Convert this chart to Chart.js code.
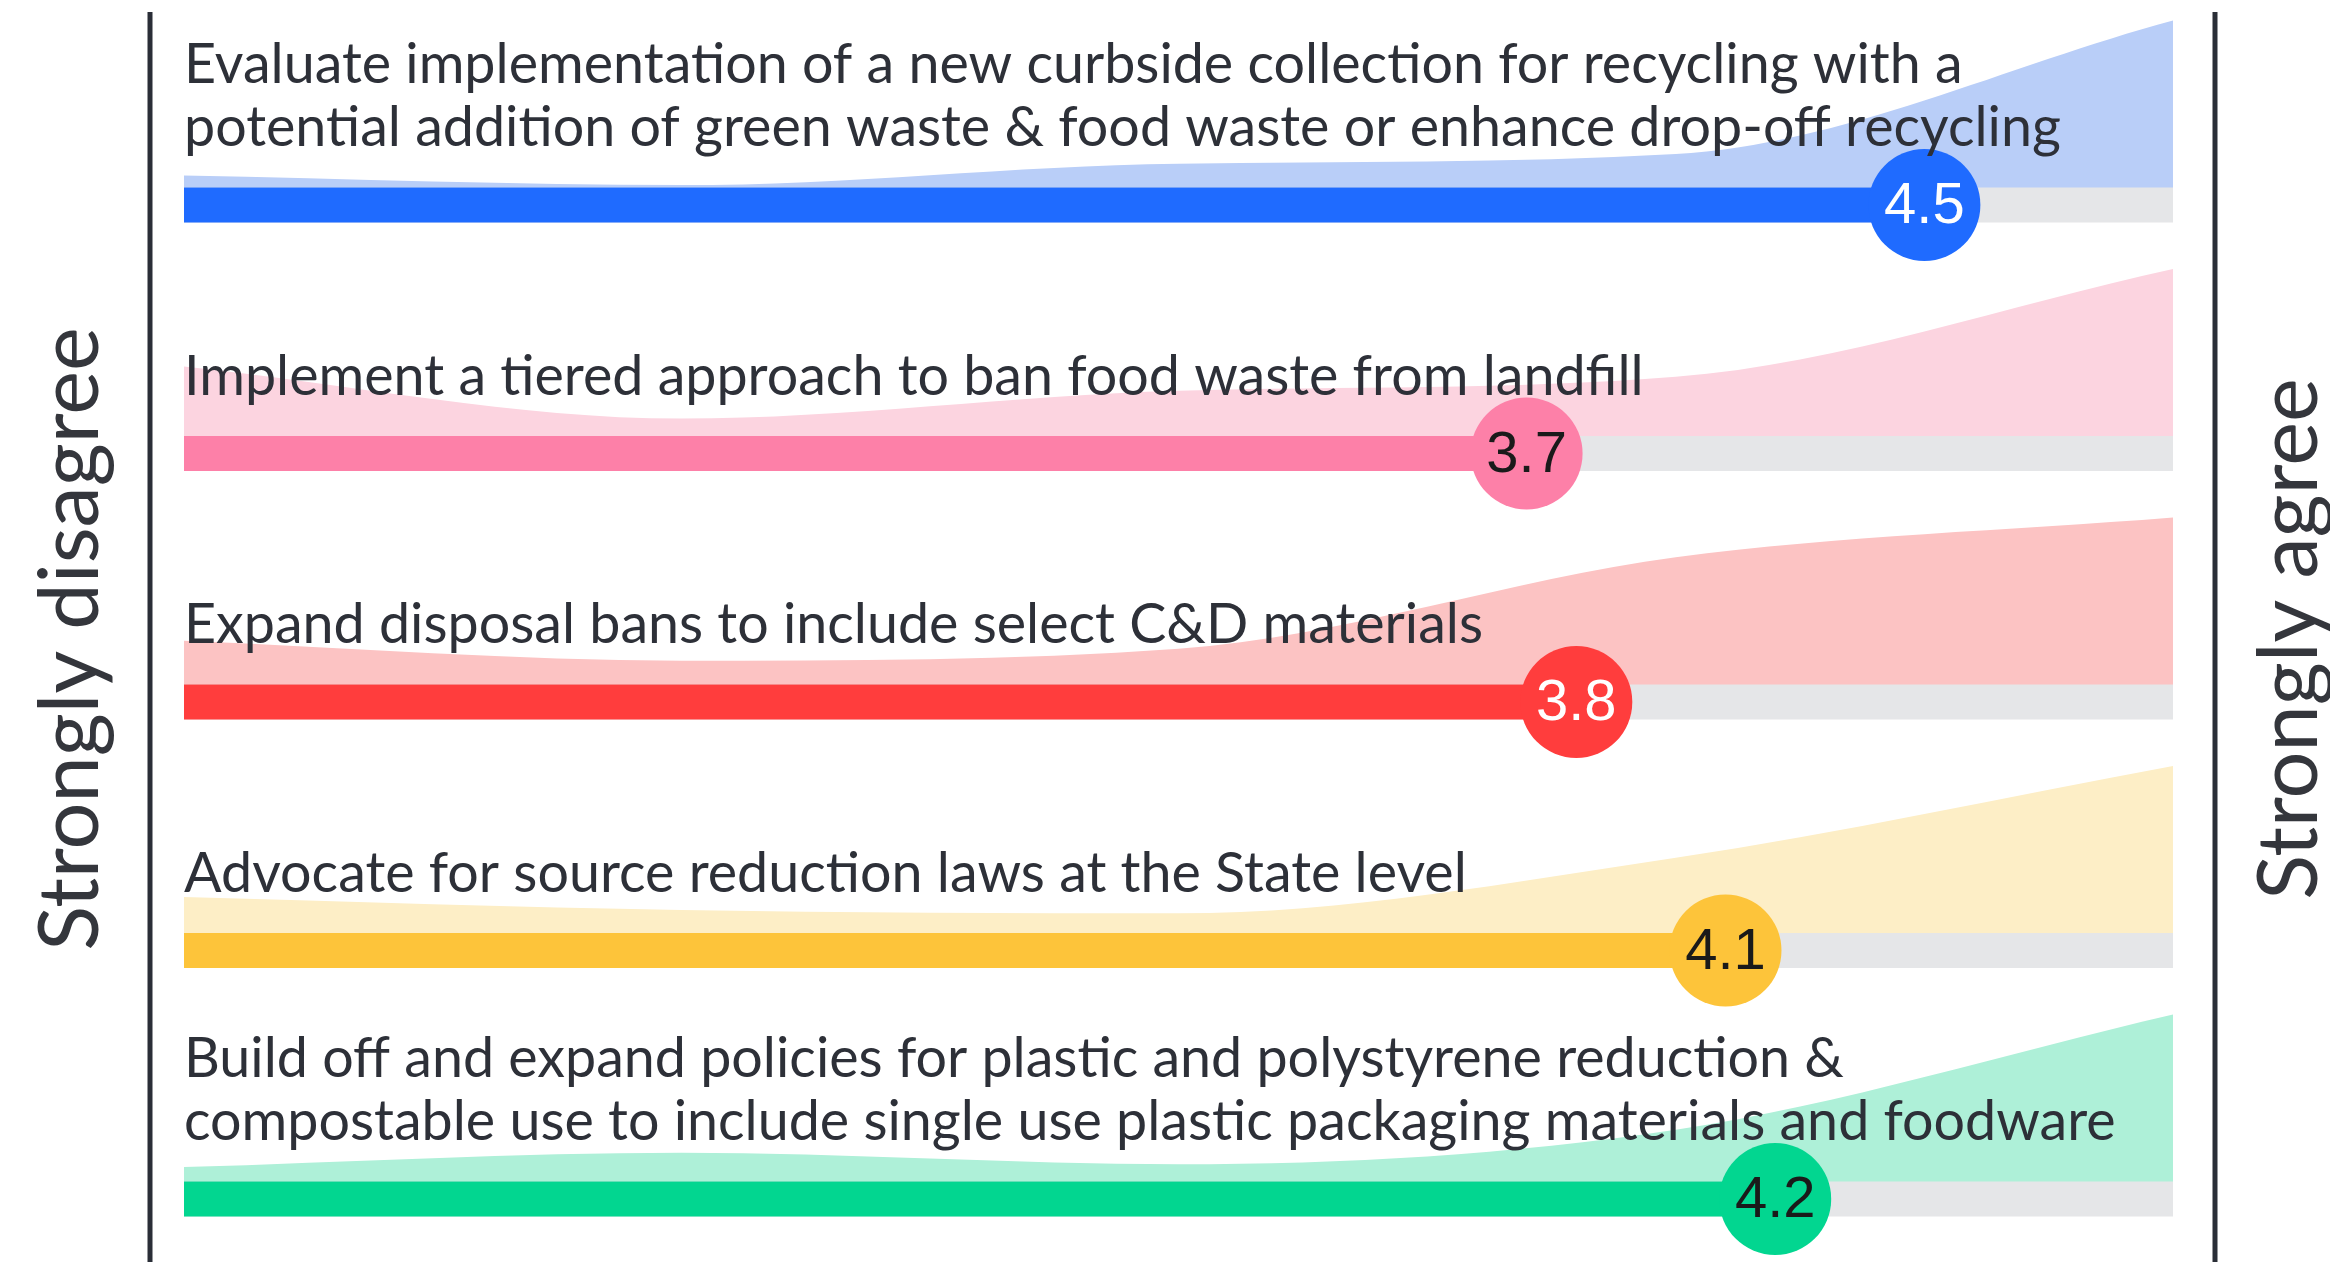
<!DOCTYPE html>
<html>
<head>
<meta charset="utf-8">
<script src="https://cdn.jsdelivr.net/npm/chart.js"></script>
<style>
  html, body { margin: 0; padding: 0; background: #fff; }
  canvas { display: block; }
</style>
</head>
<body>
<canvas id="chart" width="2330" height="1262"></canvas>
<script>
// statements (label lines)
const CATEGORIES = [
  ["Evaluate implementation of a new curbside collection for recycling with a",
   "potential addition of green waste & food waste or enhance drop-off recycling"],
  ["Implement a tiered approach to ban food waste from landfill"],
  ["Expand disposal bans to include select C&D materials"],
  ["Advocate for source reduction laws at the State level"],
  ["Build off and expand policies for plastic and polystyrene reduction &",
   "compostable use to include single use plastic packaging materials and foodware"]
];
const AVERAGES = [4.5, 3.7, 3.8, 4.1, 4.2];
const SCALE = [1, 2, 3, 4, 5];
const SCALE_LABELS = ["Strongly disagree", "Strongly agree"];

// share of responses at each scale point (%)
const DIST_CURBSIDE = [5, 1, 10, 14, 70];
const DIST_FOODWASTE = [20, 5, 13, 17, 48];
const DIST_CD = [11, 6, 9, 32, 42];
const DIST_SOURCE = [11, 7, 6, 23, 51];
const DIST_PLASTIC = [5, 10, 6, 18, 58];
const DISTS = [DIST_CURBSIDE, DIST_FOODWASTE, DIST_CD, DIST_SOURCE, DIST_PLASTIC];

const BAR_COLORS = ['#1f6bff', '#fd80a8', '#ff3d3d', '#fdc43a', '#02d690'];
const AREA_COLORS = ['#b9cef8', '#fcd4e0', '#fcc3c3', '#fdeec6', '#aef0d8'];
const VALUE_COLORS = ['#ffffff', '#1a1a1a', '#ffffff', '#1a1a1a', '#1a1a1a'];
const TRACK = '#e5e6e8';

// layout (y axis runs in pixels, top down)
const ROW_FIRST = 205, ROW_GAP = 248.5;
const BAR_W = 35, AREA_H = 167, DOT_R = 56;
const rowY = i => ROW_FIRST + ROW_GAP * i;

const datasets = [];
datasets.push({
  data: AVERAGES.map((v, i) => ({ x: v, y: rowY(i) })),
  showLine: false,
  pointRadius: DOT_R, pointHoverRadius: DOT_R,
  pointBackgroundColor: BAR_COLORS, pointBorderWidth: 0,
  clip: false, order: 0
});
CATEGORIES.forEach((c, i) => {
  const y = rowY(i);
  const max = Math.max(...DISTS[i]);
  datasets.push({
    data: [{ x: 1, y: y }, { x: AVERAGES[i], y: y }],
    borderColor: BAR_COLORS[i], borderWidth: BAR_W, borderCapStyle: 'butt',
    pointRadius: 0, order: 1
  });
  datasets.push({
    data: [{ x: 1, y: y }, { x: 5, y: y }],
    borderColor: TRACK, borderWidth: BAR_W, borderCapStyle: 'butt',
    pointRadius: 0, order: 2
  });
  datasets.push({
    data: SCALE.map((s, k) => ({ x: s, y: y - BAR_W / 2 - DISTS[i][k] / max * AREA_H })),
    borderWidth: 0, borderColor: 'rgba(0,0,0,0)',
    backgroundColor: AREA_COLORS[i],
    fill: { value: y },
    cubicInterpolationMode: 'monotone',
    pointRadius: 0, order: 3
  });
});

const decorations = {
  id: 'decorations',
  afterDatasetsDraw(chart) {
    const ctx = chart.ctx;
    const xs = chart.scales.x;
    const left = xs.getPixelForValue(1);
    ctx.save();

    // statement labels, sized to the reference line width
    ctx.font = '100px Lato';
    const labelSize = 100 * 1780 / ctx.measureText(CATEGORIES[0][0]).width;
    ctx.font = labelSize.toFixed(1) + 'px Lato';
    ctx.fillStyle = '#2d3038';
    ctx.textAlign = 'left';
    ctx.textBaseline = 'alphabetic';
    CATEGORIES.forEach((lines, i) => {
      const base = rowY(i) - 59;
      lines.forEach((t, k) => {
        ctx.fillText(t, left, base - (lines.length - 1 - k) * 63);
      });
    });

    // averages inside the dots
    const dots = chart.getDatasetMeta(0).data;
    ctx.font = '58px "Liberation Sans", Arial, sans-serif';
    ctx.textAlign = 'center';
    ctx.textBaseline = 'middle';
    dots.forEach((p, i) => {
      ctx.fillStyle = VALUE_COLORS[i];
      ctx.fillText(AVERAGES[i].toFixed(1), p.x, p.y + 2);
    });

    // end bars
    ctx.strokeStyle = '#2a2e37';
    ctx.lineWidth = 5;
    [150, 2215].forEach(x => {
      ctx.beginPath();
      ctx.moveTo(x, 12);
      ctx.lineTo(x, chart.height);
      ctx.stroke();
    });

    // scale end titles, rotated
    ctx.font = '100px Lato';
    const titleSize = 100 * 624 / ctx.measureText(SCALE_LABELS[0]).width;
    ctx.font = titleSize.toFixed(1) + 'px Lato';
    ctx.fillStyle = '#34363c';
    [[71, SCALE_LABELS[0]], [2290, SCALE_LABELS[1]]].forEach(([x, t]) => {
      ctx.save();
      ctx.translate(x, 639);
      ctx.rotate(-Math.PI / 2);
      ctx.fillText(t, 0, 0);
      ctx.restore();
    });
    ctx.restore();
  }
};

new Chart(document.getElementById('chart'), {
  type: 'line',
  data: { datasets: datasets },
  options: {
    responsive: false,
    animation: false,
    events: [],
    layout: { autoPadding: false, padding: { left: 184, right: 157, top: 0, bottom: 0 } },
    scales: {
      x: { type: 'linear', min: 1, max: 5, display: false },
      y: { type: 'linear', min: 0, max: 1262, reverse: true, display: false }
    },
    plugins: { legend: { display: false }, tooltip: { enabled: false } }
  },
  plugins: [decorations]
});
</script>
</body>
</html>
